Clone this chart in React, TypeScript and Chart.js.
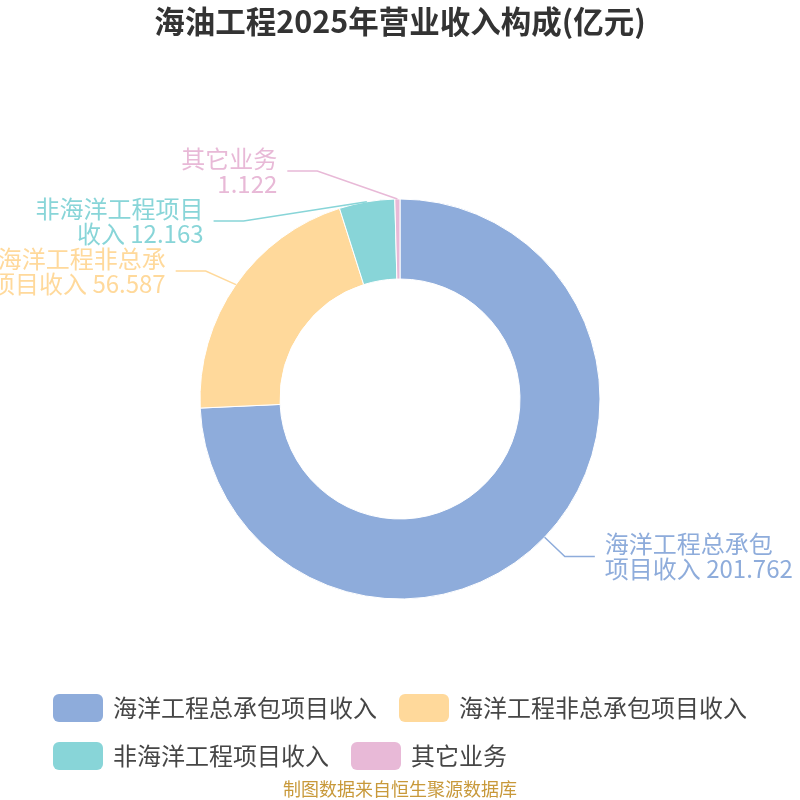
import React, { useEffect, useRef } from 'react';
import { Chart, registerables, ChartConfiguration, Plugin, ArcElement } from 'chart.js';

Chart.register(...registerables);

// revenue composition, 100 million yuan
const categories = [
  '海洋工程总承包项目收入',
  '海洋工程非总承包项目收入',
  '非海洋工程项目收入',
  '其它业务',
];
const revenue = [201.762, 56.587, 12.163, 1.122];
const sliceColors = ['#8eacdb', '#ffd99b', '#88d5d8', '#e8b9d7'];

const titleText = '海油工程2025年营业收入构成(亿元)';
const sourceText = '制图数据来自恒生聚源数据库';

const FONT = '"Noto Sans CJK SC", "Noto Sans", sans-serif';

// label line / text layout
const LINE1 = 28;
const LINE2 = 30;
const TEXT_GAP = 10;
const LABEL_SIZE = 24;
const LABEL_LH = 25;
const WRAP_CHARS = 7;

// legend layout
const LEGEND_Y = 708;
const LEGEND_ROW = 48;
const BOX_W = 50;
const BOX_H = 28;
const LEGEND_SIZE = 24;
const LEGEND_MAX_W = 740;

const labelLines = (name: string, value: number) => [
  name.slice(0, WRAP_CHARS),
  (name.slice(WRAP_CHARS) + ' ' + value).trim(),
];

const outsideLabels: Plugin<'doughnut'> = {
  id: 'outsideLabels',
  afterDatasetsDraw(chart) {
    const ctx = chart.ctx;
    const meta = chart.getDatasetMeta(0);
    const values = chart.data.datasets[0].data as number[];
    const colors = chart.data.datasets[0].backgroundColor as string[];

    const items = meta.data.map((el, i) => {
      const arc = el as unknown as ArcElement;
      const { x, y, startAngle, endAngle, outerRadius } = arc.getProps(
        ['x', 'y', 'startAngle', 'endAngle', 'outerRadius'],
        true
      ) as any;
      const mid = (startAngle + endAngle) / 2;
      const cos = Math.cos(mid);
      const sin = Math.sin(mid);
      return {
        i,
        cx: x,
        cy: y,
        r: outerRadius,
        x1: x + cos * outerRadius,
        y1: y + sin * outerRadius,
        ex: x + cos * (outerRadius + LINE1),
        ey: y + sin * (outerRadius + LINE1),
        dir: cos < 0 ? -1 : 1,
      };
    });

    // push overlapping labels apart, then put the elbows back on an ellipse
    [-1, 1].forEach((dir) => {
      const side = items.filter((it) => it.dir === dir).sort((a, b) => a.ey - b.ey);
      let moved = false;
      for (let k = 1; k < side.length; k++) {
        const minY = side[k - 1].ey + LABEL_LH * 2;
        if (side[k].ey < minY) {
          side[k].ey = minY;
          moved = true;
        }
      }
      if (!moved) return;
      [true, false].forEach((top) => {
        const half = side.filter((it) => it.ey < it.cy === top);
        if (!half.length) return;
        const rA = half[0].r + LINE1;
        const rB = Math.max(...half.map((it) => Math.abs(it.ey - it.cy))) + (LABEL_LH * 2) / 3;
        half.forEach((it) => {
          const dy = it.ey - it.cy;
          it.ex = it.cx + dir * rA * Math.sqrt(Math.max(0, 1 - (dy * dy) / (rB * rB)));
        });
      });
    });

    ctx.save();
    items.forEach((it) => {
      const color = colors[it.i];
      ctx.strokeStyle = color;
      ctx.lineWidth = 1.5;
      ctx.beginPath();
      ctx.moveTo(it.x1, it.y1);
      ctx.lineTo(it.ex, it.ey);
      ctx.lineTo(it.ex + it.dir * LINE2, it.ey);
      ctx.stroke();

      ctx.fillStyle = color;
      ctx.font = `${LABEL_SIZE}px ${FONT}`;
      ctx.textAlign = it.dir < 0 ? 'right' : 'left';
      ctx.textBaseline = 'middle';
      const tx = it.ex + it.dir * (LINE2 + TEXT_GAP);
      const lines = labelLines(categories[it.i], values[it.i]);
      lines.forEach((line, k) => {
        ctx.fillText(line, tx, it.ey + (k - (lines.length - 1) / 2) * LABEL_LH);
      });
    });
    ctx.restore();
  },
};

const bottomLegend: Plugin<'doughnut'> = {
  id: 'bottomLegend',
  afterDraw(chart) {
    const ctx = chart.ctx;
    const colors = chart.data.datasets[0].backgroundColor as string[];
    ctx.save();
    ctx.font = `${LEGEND_SIZE}px ${FONT}`;
    const widths = categories.map((c) => BOX_W + 10 + ctx.measureText(c).width);
    const gap = 22;
    const rows: number[][] = [[]];
    let rowW = 0;
    widths.forEach((w, i) => {
      const cur = rows[rows.length - 1];
      if (cur.length && rowW + gap + w > LEGEND_MAX_W) {
        rows.push([i]);
        rowW = w;
      } else {
        rowW += (cur.length ? gap : 0) + w;
        cur.push(i);
      }
    });
    const rowWidth = (r: number[]) => r.reduce((s, i, k) => s + widths[i] + (k ? gap : 0), 0);
    const maxRow = Math.max(...rows.map(rowWidth));
    const x0 = (chart.width - maxRow) / 2;
    rows.forEach((row, ri) => {
      let x = x0;
      const cy = LEGEND_Y + ri * LEGEND_ROW;
      row.forEach((i) => {
        ctx.fillStyle = colors[i];
        ctx.beginPath();
        ctx.roundRect(x, cy - BOX_H / 2, BOX_W, BOX_H, 6);
        ctx.fill();
        ctx.fillStyle = '#464646';
        ctx.textAlign = 'left';
        ctx.textBaseline = 'middle';
        ctx.fillText(categories[i], x + BOX_W + 10, cy);
        x += widths[i] + gap;
      });
    });
    ctx.restore();
  },
};

const config: ChartConfiguration<'doughnut'> = {
  type: 'doughnut',
  data: {
    labels: categories,
    datasets: [
      {
        data: revenue,
        backgroundColor: sliceColors,
        borderColor: '#ffffff',
        borderWidth: 1,
      },
    ],
  },
  options: {
    responsive: false,
    animation: false,
    radius: 200,
    cutout: '60%',
    layout: { padding: 0 },
    plugins: {
      legend: { display: false },
      tooltip: { enabled: false },
      title: {
        display: true,
        text: titleText,
        color: '#333333',
        font: { family: FONT, size: 30.5, weight: 'bold' },
        padding: { top: 3, bottom: 6 },
      },
      subtitle: {
        display: true,
        position: 'bottom',
        text: sourceText,
        color: '#c8993a',
        font: { family: FONT, size: 18 },
        padding: { top: 26, bottom: 0 },
      },
    },
  },
  plugins: [outsideLabels, bottomLegend],
};

export default function App() {
  const canvasRef = useRef<HTMLCanvasElement>(null);

  useEffect(() => {
    document.body.style.margin = '0';
    if (!canvasRef.current) return;
    const chart = new Chart(canvasRef.current, config);
    return () => chart.destroy();
  }, []);

  return (
    <div style={{ width: 800, height: 800 }}>
      <canvas ref={canvasRef} width={800} height={800} style={{ display: 'block' }} />
    </div>
  );
}
